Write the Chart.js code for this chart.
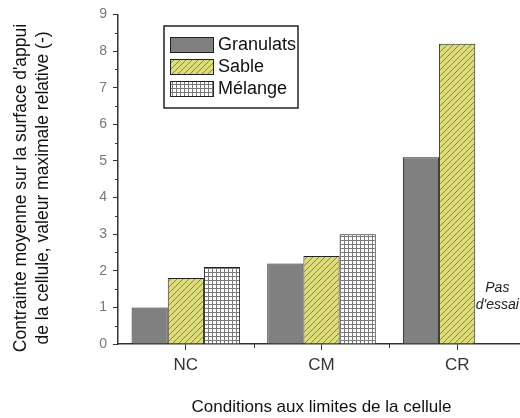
<!DOCTYPE html>
<html>
<head>
<meta charset="utf-8">
<script src="https://cdn.jsdelivr.net/npm/chart.js@4/dist/chart.umd.min.js"></script>
<style>
html,body{margin:0;padding:0;background:#fff;overflow:hidden;width:520px;height:418px;}
#wrap{position:absolute;left:0;top:0;width:540px;height:418px;}
</style>
</head>
<body>
<div id="wrap"><canvas id="c" width="540" height="418"></canvas></div>
<script>
const categories = ['NC', 'CM', 'CR'];
const granulats = [1.0, 2.2, 5.1];
const sable = [1.8, 2.4, 8.2];
const melange = [2.1, 3.0, null];
const seriesNames = ['Granulats', 'Sable', 'Mélange'];
const yTicks = [0, 1, 2, 3, 4, 5, 6, 7, 8, 9];
const noTestLabel = ['Pas', "d'essai"];
const xTitle = 'Conditions aux limites de la cellule';
const yTitle = ["Contrainte moyenne sur la surface d'appui", 'de la cellule, valeur maximale relative (-)'];

const FONT = "'Liberation Sans', Arial, sans-serif";

function hatchPattern() {
  const s = 6;
  const c = document.createElement('canvas'); c.width = s; c.height = s;
  const g = c.getContext('2d');
  g.fillStyle = '#dcdc7c'; g.fillRect(0, 0, s, s);
  g.strokeStyle = '#707048'; g.lineWidth = 0.8;
  g.beginPath();
  g.moveTo(-1, s + 1); g.lineTo(s + 1, -1);
  g.moveTo(-1, 1); g.lineTo(1, -1);
  g.moveTo(s - 1, s + 1); g.lineTo(s + 1, s - 1);
  g.stroke();
  return g.createPattern(c, 'repeat');
}
function gridPattern() {
  const s = 4;
  const c = document.createElement('canvas'); c.width = s; c.height = s;
  const g = c.getContext('2d');
  g.fillStyle = '#ffffff'; g.fillRect(0, 0, s, s);
  g.fillStyle = '#7a7a7a';
  g.fillRect(0, 0, s, 1); g.fillRect(0, 0, 1, s);
  return g.createPattern(c, 'repeat');
}
const fills = ['#808080', hatchPattern(), gridPattern()];

const extras = {
  id: 'extras',
  afterDraw(chart) {
    const ctx = chart.ctx;
    const x = chart.scales.x, y = chart.scales.y;
    ctx.save();
    // minor y ticks
    ctx.strokeStyle = '#333'; ctx.lineWidth = 1;
    for (let v = 0.5; v < 9; v += 1) {
      const py = Math.round(y.getPixelForValue(v)) + 0.5;
      ctx.beginPath(); ctx.moveTo(x.left - 3, py); ctx.lineTo(x.left, py); ctx.stroke();
    }
    // minor x ticks at category boundaries
    const step = x.getPixelForValue(1) - x.getPixelForValue(0);
    for (let i = 0; i < categories.length - 1; i++) {
      const px = Math.round(x.getPixelForValue(i) + step / 2) + 0.5;
      ctx.beginPath(); ctx.moveTo(px, y.bottom); ctx.lineTo(px, y.bottom + 4); ctx.stroke();
    }
    // y axis title (two lines, rotated)
    ctx.save();
    ctx.translate(21, 188);
    ctx.rotate(-Math.PI / 2);
    ctx.fillStyle = '#111';
    ctx.font = '17.5px ' + FONT;
    ctx.textAlign = 'center'; ctx.textBaseline = 'middle';
    ctx.fillText(yTitle[0], 0, 0);
    ctx.fillText(yTitle[1], 0, 22);
    ctx.restore();
    // "Pas d'essai"
    const barW = step * 0.8 / 3;
    const tx = x.getPixelForValue(2) + barW + 4;
    ctx.fillStyle = '#222';
    ctx.font = 'italic 14px ' + FONT;
    ctx.textAlign = 'center'; ctx.textBaseline = 'middle';
    ctx.fillText(noTestLabel[0], tx, y.getPixelForValue(1.53));
    ctx.fillText(noTestLabel[1], tx, y.getPixelForValue(1.07));
    // legend
    const lx = 164, ly = 26, lw = 134, lh = 82;
    ctx.fillStyle = '#fff'; ctx.fillRect(lx, ly, lw, lh);
    ctx.strokeStyle = '#222'; ctx.lineWidth = 1.5;
    ctx.strokeRect(lx, ly, lw, lh);
    ctx.font = '18px ' + FONT; ctx.textAlign = 'left';
    for (let i = 0; i < seriesNames.length; i++) {
      const sy = 37 + i * 22;
      ctx.fillStyle = fills[i]; ctx.fillRect(170, sy, 43, 15);
      ctx.strokeStyle = '#222'; ctx.lineWidth = 1;
      ctx.strokeRect(170.5, sy + 0.5, 43, 15);
      ctx.fillStyle = '#111';
      ctx.fillText(seriesNames[i], 218, sy + 8);
    }
    ctx.restore();
  }
};

new Chart(document.getElementById('c'), {
  type: 'bar',
  data: {
    labels: categories,
    datasets: [
      { label: seriesNames[0], data: granulats, backgroundColor: fills[0], borderColor: '#222', borderWidth: 1 },
      { label: seriesNames[1], data: sable, backgroundColor: fills[1], borderColor: '#222', borderWidth: 1 },
      { label: seriesNames[2], data: melange, backgroundColor: fills[2], borderColor: '#222', borderWidth: 1 }
    ]
  },
  options: {
    responsive: false,
    animation: false,
    events: [],
    layout: { padding: { top: 14, right: 15, left: 0, bottom: 0 } },
    datasets: { bar: { barPercentage: 1.0, categoryPercentage: 0.8 } },
    plugins: { legend: { display: false }, tooltip: { enabled: false } },
    scales: {
      x: {
        grid: { display: true, drawOnChartArea: false, offset: false, tickLength: 6, color: '#333', tickWidth: 1 },
        border: { display: true, color: '#333', width: 1.5 },
        ticks: { color: '#333', font: { family: FONT, size: 17 }, padding: 5 },
        title: { display: true, text: xTitle, color: '#111', font: { family: FONT, size: 17 }, padding: { top: 0, bottom: 0 } },
        afterFit(s) { s.height = 74; }
      },
      y: {
        min: 0, max: 9,
        afterBuildTicks(s) { s.ticks = yTicks.map(v => ({ value: v })); },
        grid: { display: true, drawOnChartArea: false, tickLength: 5, color: '#333', tickWidth: 1 },
        border: { display: true, color: '#333', width: 1.5 },
        ticks: { color: '#777', font: { family: FONT, size: 14 }, padding: 6 },
        title: { display: false },
        afterFit(s) { s.width = 118; }
      }
    }
  },
  plugins: [extras]
});
</script>
</body>
</html>
